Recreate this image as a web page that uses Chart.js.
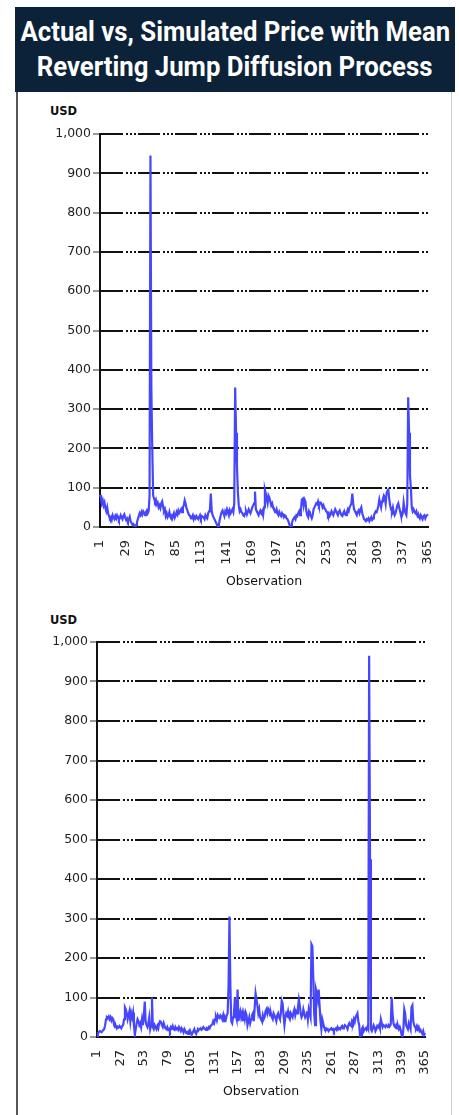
<!DOCTYPE html>
<html>
<head>
<meta charset="utf-8">
<script src="https://cdn.jsdelivr.net/npm/chart.js@4.4.1/dist/chart.umd.min.js"></script>
<style>
  body { margin: 0; background: #fff; width: 459px; height: 1115px; position: relative; overflow: hidden; }
  .title_band { position: absolute; left: 15px; top: 7px; width: 440px; height: 85px; background: #0b2239;
    color: #fff; font-family: Roboto, "Noto Sans", sans-serif; font-weight: bold;
    font-size: 27px; line-height: 35px; padding-top: 8px; box-sizing: border-box; overflow: hidden; }
  .title_band div { white-space: nowrap; display: flex; justify-content: center; }
  .title_band span { display: inline-block; flex: none; transform-origin: 50% 50%; }
  .panel { position: absolute; left: 16px; top: 92px; width: 436px; height: 1023px; box-sizing: border-box;
    border-left: 2px solid #555; border-right: 1px solid #ccc; }
  .usd { position: absolute; font-family: "DejaVu Sans", sans-serif; font-weight: bold; font-size: 11.5px; color: #111; }
  canvas { position: absolute; }
</style>
</head>
<body>
<div class="title_band">
  <div><span class="title_line">Actual vs, Simulated Price with Mean</span></div>
  <div><span class="title_line">Reverting Jump Diffusion Process</span></div>
</div>
<div class="panel"></div>
<div class="usd" style="left:50px; top:104px;">USD</div>
<div class="usd" style="left:50px; top:613px;">USD</div>
<canvas id="chart_top" width="430" height="469" style="left:20px; top:120px;"></canvas>
<canvas id="chart_bottom" width="430" height="469" style="left:17px; top:630px;"></canvas>
<script>
/* DATA */
// actual price (top panel), observation 1..365
let actual_price = [
  82, 75, 60, 68, 55, 62, 48, 40, 50, 35,
  28, 22, 25, 18, 30, 24, 20, 28, 22, 30,
  26, 18, 22, 30, 25, 20, 28, 32, 24, 18,
  22, 15, 20, 26, 14, 10, 6, 8, 4, 0,
  5, 12, 20, 28, 35, 30, 38, 32, 40, 36,
  30, 38, 42, 35, 40, 80, 945, 350, 200, 80,
  72, 65, 70, 58, 62, 50, 55, 48, 60, 65,
  52, 40, 45, 28, 35, 25, 30, 38, 26, 22,
  30, 28, 35, 24, 30, 38, 32, 42, 36, 40,
  45, 38, 50, 55, 68, 60, 48, 42, 35, 30,
  28, 22, 25, 30, 20, 26, 22, 28, 24, 20,
  25, 30, 22, 28, 26, 24, 20, 30, 25, 22,
  35, 40, 45, 85, 40, 30, 25, 20, 15, 10,
  5, 0, 8, 20, 30, 38, 42, 35, 28, 40,
  35, 45, 38, 30, 42, 35, 40, 45, 38, 60,
  355, 240, 155, 90, 55, 40, 45, 38, 35, 30,
  28, 35, 40, 32, 38, 45, 40, 35, 42, 50,
  55, 60, 90, 45, 40, 35, 30, 38, 42, 35,
  40, 30, 50, 95, 85, 70, 60, 80, 75, 65,
  55, 60, 50, 45, 40, 38, 45, 35, 30, 38,
  32, 28, 35, 30, 25, 30, 28, 22, 20, 15,
  8, 0, 3, 10, 18, 22, 25, 20, 30, 28,
  35, 40, 30, 45, 70, 72, 55, 70, 65, 40,
  30, 25, 40, 35, 28, 22, 30, 45, 50, 55,
  60, 58, 65, 55, 60, 62, 58, 50, 55, 48,
  45, 40, 38, 30, 35, 28, 32, 40, 35, 30,
  38, 45, 40, 35, 30, 38, 42, 35, 30, 28,
  35, 40, 32, 30, 38, 45, 40, 50, 55, 60,
  85, 60, 45, 40, 35, 30, 38, 42, 35, 45,
  50, 35, 28, 20, 18, 15, 20, 18, 22, 15,
  20, 25, 18, 22, 30, 35, 40, 38, 45, 55,
  70, 60, 50, 65, 72, 80, 75, 60, 85, 92,
  95, 70, 55, 45, 40, 50, 38, 30, 35, 45,
  55, 60, 50, 40, 30, 28, 35, 62, 45, 35,
  30, 60, 330, 240, 130, 100, 50, 40, 45, 38,
  35, 40, 30, 25, 28, 22, 30, 25, 20, 28,
  30, 22, 28, 30, 32
];

// simulated price (bottom panel), observation 1..365
let simulated_price = [
  2, 10, 12, 15, 14, 12, 15, 18, 20, 30,
  45, 50, 48, 52, 45, 50, 42, 48, 45, 30,
  25, 28, 22, 26, 24, 28, 25, 22, 28, 30,
  45, 75, 70, 60, 45, 55, 65, 40, 60, 50,
  62, 30, 5, 20, 35, 45, 40, 30, 35, 25,
  45, 30, 55, 90, 40, 30, 25, 35, 50, 20,
  30, 100, 25, 20, 30, 25, 20, 28, 22, 35,
  40, 38, 30, 25, 35, 28, 22, 20, 25, 18,
  20, 15, 25, 22, 28, 20, 18, 25, 20, 22,
  18, 25, 20, 15, 22, 18, 12, 20, 15, 10,
  12, 8, 15, 18, 12, 5, 10, 15, 20, 12,
  8, 15, 20, 18, 20, 22, 18, 20, 25, 22,
  20, 18, 22, 20, 25, 22, 28, 30, 32, 40,
  35, 45, 50, 42, 55, 50, 48, 55, 52, 45,
  55, 40, 50, 45, 55, 60, 130, 305, 130, 40,
  35, 50, 60, 100, 55, 45, 120, 40, 55, 65,
  50, 60, 40, 58, 45, 62, 55, 30, 40, 50,
  35, 45, 55, 60, 40, 75, 110, 95, 80, 60,
  70, 50, 45, 40, 55, 45, 50, 65, 70, 60,
  72, 68, 55, 60, 50, 45, 60, 55, 48, 40,
  55, 60, 50, 45, 60, 92, 85, 55, 30, 50,
  60, 55, 65, 50, 45, 60, 55, 50, 62, 70,
  55, 65, 60, 75, 95, 80, 60, 50, 55, 70,
  60, 50, 55, 65, 45, 70, 60, 50, 235, 230,
  150, 60, 30, 120, 110, 95, 120, 80, 40, 20,
  45, 35, 25, 20, 22, 18, 20, 15, 18, 20,
  22, 18, 20, 15, 20, 22, 18, 25, 20, 22,
  20, 25, 28, 22, 25, 30, 28, 25, 20, 30,
  35, 30, 28, 40, 35, 45, 38, 50, 55, 60,
  40, 30, 0, 5, 20, 25, 15, 20, 22, 18,
  25, 20, 965, 450, 20, 15, 22, 30, 25, 15,
  20, 28, 25, 30, 22, 45, 35, 25, 30, 28,
  25, 30, 28, 25, 30, 28, 32, 100, 60, 35,
  28, 25, 30, 22, 28, 20, 25, 18, 5, 0,
  20, 70, 60, 30, 25, 20, 35, 28, 20, 75,
  80, 40, 30, 25, 22, 28, 20, 25, 15, 18,
  12, 8, 15, 5, 10
];

// tick labels shown on the x axis
let top_tick_labels = [1, 29, 57, 85, 113, 141, 169, 197, 225, 253, 281, 309, 337, 365];
let bottom_tick_labels = [1, 27, 53, 79, 105, 131, 157, 183, 209, 235, 261, 287, 313, 339, 365];

// observation numbers (categories)
let observations = actual_price.map((v, i) => i + 1);

/* TITLE: squeeze to the condensed width of the original */
let title_spans = document.querySelectorAll('.title_line');
let widest = Math.max(...Array.from(title_spans).map(s => s.offsetWidth));
let squeeze = 430 / widest;
title_spans.forEach(s => { s.style.transform = 'scaleX(' + squeeze + ')'; });

/* CHART SETTING */
Chart.defaults.font.family = '"DejaVu Sans", sans-serif';
Chart.defaults.color = '#222';

function make_chart(canvas_id, values, tick_labels, pad_top) {
  const ctx = document.getElementById(canvas_id).getContext('2d');
  return new Chart(ctx, {
    type: 'line',
    data: {
      labels: observations,
      datasets: [{
        data: values,
        borderColor: '#4646ff',
        borderWidth: 2.2,
        pointRadius: 0,
        tension: 0,
        fill: false
      }]
    },
    options: {
      responsive: false,
      animation: false,
      layout: { padding: { top: pad_top, right: 22, left: 0, bottom: 0 } },
      plugins: { legend: { display: false }, tooltip: { enabled: false } },
      scales: {
        x: {
          grid: { display: false },
          border: { display: true, color: '#111', width: 2 },
          ticks: {
            autoSkip: false,
            minRotation: 90,
            maxRotation: 90,
            padding: 5,
            font: { size: 13 },
            callback: function(val, idx) {
              const lab = observations[idx];
              return tick_labels.includes(lab) ? String(lab) : null;
            }
          },
          title: { display: true, text: 'Observation', font: { size: 12.5 }, color: '#111', padding: { top: 2, bottom: 0 } },
          afterFit: function(scale) { scale.height = 62; }
        },
        y: {
          min: 0,
          max: 1000,
          ticks: { stepSize: 100, font: { size: 12.5 }, padding: 2 },
          grid: { color: '#111', lineWidth: 2, tickColor: '#777', tickWidth: 1.5, tickLength: 7, tickBorderDash: [] },
          border: { display: true, color: '#111', width: 2, dash: [22, 3, 2, 2, 2, 2, 2, 2] },
          afterFit: function(scale) { scale.width = 80; }
        }
      }
    }
  });
}

const topChart = make_chart('chart_top', actual_price, top_tick_labels, 14);
const bottomChart = make_chart('chart_bottom', simulated_price, bottom_tick_labels, 12);
</script>
</body>
</html>
